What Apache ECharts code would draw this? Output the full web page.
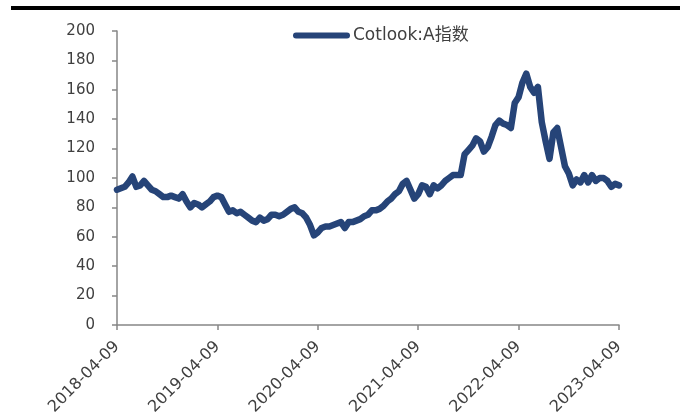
<!DOCTYPE html>
<html>
<head>
<meta charset="utf-8">
<script src="https://cdn.jsdelivr.net/npm/echarts@6/dist/echarts.min.js"></script>
<style>
html,body{margin:0;padding:0;background:#fff;}
#chart{width:680px;height:414px;}
</style>
</head>
<body>
<div id="chart"></div>
<script>
// Tick labels on the x axis (one per year)
const tickLabels = ['2018-04-09','2019-04-09','2020-04-09','2021-04-09','2022-04-09','2023-04-09'];
// Series name
const seriesName = 'Cotlook:A指数';
// Cotlook A index, sampled every two weeks from 2018-04-09 to 2023-04-09
const cotlookA = [
  92,93,94,97,101,94,95,98,95,92,
  91,89,87,87,88,87,86,89,84,80,
  83,82,80,82,84,87,88,87,82,77,
  78,76,77,75,73,71,70,73,71,72,
  75,75,74,75,77,79,80,77,76,73,
  68,61,63,66,67,67,68,69,70,66,
  70,70,71,72,74,75,78,78,79,81,
  84,86,89,91,96,98,92,86,89,95,
  94,89,95,93,95,98,100,102,102,102,
  116,119,122,127,125,118,121,128,136,139,
  137,136,134,151,155,165,171,162,158,162,
  138,125,113,131,134,121,108,103,95,99,
  97,102,97,102,98,100,100,98,94,96,
  95
];
const pointsPerYear = 26;
// Category labels: biweekly dates from the start date
const startDate = new Date(Date.UTC(2018,3,9));
const categories = cotlookA.map((_, i) => {
  const d = new Date(startDate.getTime() + i * 14 * 86400000);
  return d.toISOString().slice(0,10);
});

const chart = echarts.init(document.getElementById('chart'), null, {renderer:'canvas'});
const textColor = '#404040';
const axisColor = '#868686';
const numFont = 'DejaVu Sans';
chart.setOption({
  animation:false,
  backgroundColor:'#fff',
  graphic:[{
    type:'rect', shape:{x:11,y:6,width:669,height:4},
    style:{fill:'#000'}, silent:true
  }],
  legend:{
    show:true,
    left:288, top:22,
    itemWidth:57, itemHeight:6, itemGap:4,
    icon:'path://M3,0 L54,0 A3,3 0 0 1 54,6 L3,6 A3,3 0 0 1 3,0 Z',
    textStyle:{color:textColor, fontSize:17, fontFamily:numFont+', "Noto Sans CJK SC"', padding:[0,0,0,-2]},
    data:[seriesName]
  },
  grid:{left:117, right:61, top:31, bottom:89, containLabel:false, outerBoundsMode:'none'},
  xAxis:{
    type:'category',
    data:categories,
    boundaryGap:false,
    axisLine:{show:true, lineStyle:{color:axisColor, width:1.5}},
    axisTick:{show:true, interval:pointsPerYear-1, length:5, lineStyle:{color:axisColor, width:1.5}},
    axisLabel:{
      interval:pointsPerYear-1,
      rotate:45,
      margin:19,
      color:textColor,
      fontSize:16,
      fontFamily:numFont,
      formatter:(v, idx) => tickLabels[Math.round(idx / pointsPerYear)]
    },
    splitLine:{show:false}
  },
  yAxis:{
    type:'value',
    min:0, max:200, interval:20,
    axisLine:{show:true, lineStyle:{color:axisColor, width:1.5}},
    axisTick:{show:true, length:5, lineStyle:{color:axisColor, width:1.5}},
    axisLabel:{color:textColor, fontSize:15, fontFamily:numFont, margin:22},
    splitLine:{show:false}
  },
  series:[{
    name:seriesName,
    type:'line',
    data:cotlookA,
    symbol:'none',
    smooth:false,
    lineStyle:{color:'#264478', width:6.5, cap:'round', join:'round'},
    itemStyle:{color:'#264478'}
  }]
});
</script>
</body>
</html>
